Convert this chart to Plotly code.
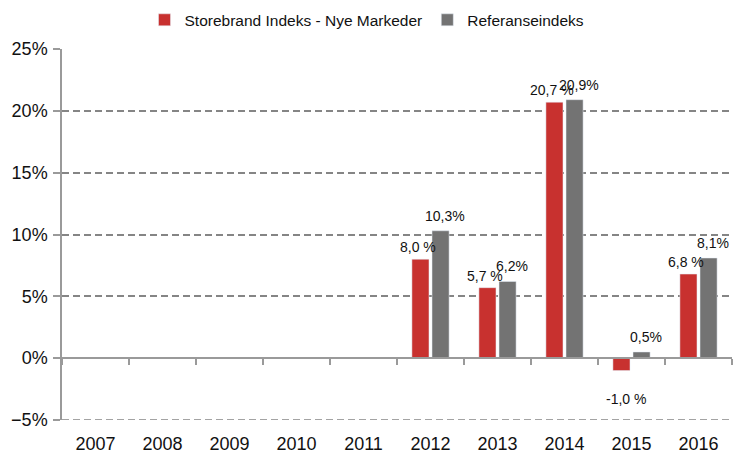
import plotly.graph_objects as go

years = ["2007", "2008", "2009", "2010", "2011", "2012", "2013", "2014", "2015", "2016"]
storebrand = [None, None, None, None, None, 8.0, 5.7, 20.7, -1.0, 6.8]
referanse = [None, None, None, None, None, 10.3, 6.2, 20.9, 0.5, 8.1]
series_names = ["Storebrand Indeks - Nye Markeder", "Referanseindeks"]
y_range = [-5, 25]
y_dtick = 5

RED = "#C8312F"
GRAY = "#737373"
AXIS = "#9a9a9a"
GRID = "#858585"
FONT = "Liberation Sans, Arial, sans-serif"

fig = go.Figure()
fig.add_trace(go.Bar(x=years, y=storebrand, name=series_names[0], marker_color=RED,
                     hoverinfo="skip"))
fig.add_trace(go.Bar(x=years, y=referanse, name=series_names[1], marker_color=GRAY,
                     hoverinfo="skip"))
# helper trace to carry the category axis drawn at zero
fig.add_trace(go.Scatter(x=years, y=[0] * len(years), xaxis="x2", mode="markers",
                         marker=dict(opacity=0), showlegend=False, hoverinfo="skip"))

def fmt(v, sep):
    return f"{v:.1f}".replace(".", ",") + sep + "%"

annotations = []
for i, v in enumerate(storebrand):
    if v is None:
        continue
    annotations.append(dict(x=i, y=v, xref="x", yref="y", text=fmt(v, " "), showarrow=False,
                            xshift=-13 if v >= 0 else -6, yshift=2 if v >= 0 else -18,
                            yanchor="bottom" if v >= 0 else "top",
                            font=dict(family=FONT, size=14, color="#111")))
for i, v in enumerate(referanse):
    if v is None:
        continue
    annotations.append(dict(x=i, y=v, xref="x", yref="y", text=fmt(v, ""), showarrow=False,
                            xshift=14, yshift=5 if v >= 0 else -18,
                            yanchor="bottom" if v >= 0 else "top",
                            font=dict(family=FONT, size=14, color="#111")))

zero_pos = (0 - y_range[0]) / (y_range[1] - y_range[0])
x_range = [-0.5, len(years) - 0.5]

fig.update_layout(
    width=734, height=450,
    margin=dict(l=62, r=2, t=49, b=30, autoexpand=False),
    paper_bgcolor="white", plot_bgcolor="white",
    font=dict(family=FONT, color="#111"),
    barmode="group", bargap=0.4, bargroupgap=0.15,
    showlegend=True,
    legend=dict(orientation="h", xref="container", yref="container",
                x=0.5, xanchor="center", y=0.955, yanchor="middle",
                font=dict(family=FONT, size=15.5, color="#111"),
                itemwidth=30, tracegroupgap=0),
    xaxis=dict(type="category", categoryorder="array", categoryarray=years, range=x_range,
               showline=False, showgrid=False, ticks="", ticklabelstandoff=11, automargin=False,
               tickfont=dict(family=FONT, size=18, color="#111")),
    xaxis2=dict(type="category", categoryorder="array", categoryarray=years, range=x_range,
                overlaying="x", anchor="free", position=zero_pos, automargin=False,
                showline=True, linecolor=AXIS, linewidth=1.5, ticks="outside", tickson="boundaries",
                ticklen=6, tickcolor=AXIS, tickwidth=1.5, showticklabels=False, showgrid=False),
    yaxis=dict(range=y_range, tick0=0, dtick=y_dtick, ticksuffix="%", showline=True, linecolor=AXIS,
               linewidth=1.5, ticks="outside", ticklen=7, tickcolor=AXIS, tickwidth=1.5,
               ticklabelstandoff=2, automargin=False,
               showgrid=True, gridcolor=GRID, gridwidth=1.5, griddash="7px,4px",
               zeroline=True, zerolinecolor=AXIS, zerolinewidth=1.5,
               tickfont=dict(family=FONT, size=18, color="#111")),
    annotations=annotations,
)
# bottom gridline at the lower end of the value range (plotly hides grid at the plot edge)
fig.add_shape(type="line", xref="paper", x0=0, x1=1, yref="y", y0=y_range[0], y1=y_range[0],
              line=dict(color=GRID, width=1.5, dash="7px,4px"), layer="below")

fig.write_html("out.html", config={"displayModeBar": False},
               post_script="document.body.style.margin='0';")
